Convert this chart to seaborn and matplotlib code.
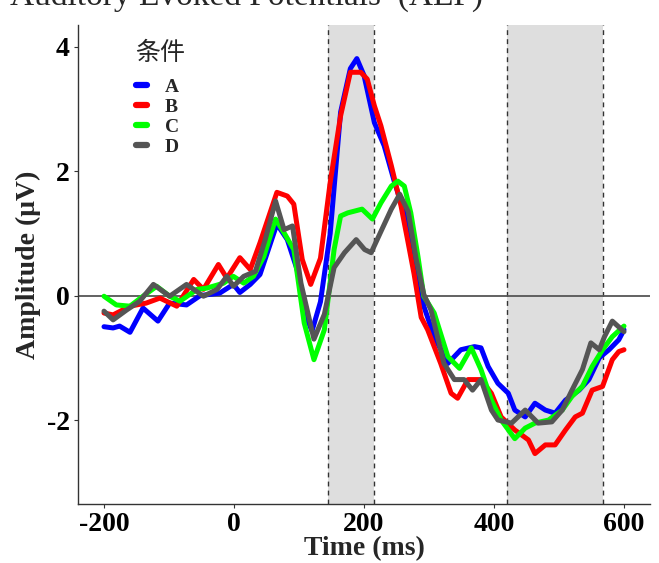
import numpy as np
import pandas as pd
import matplotlib
matplotlib.use("Agg")
import matplotlib.pyplot as plt
import seaborn as sns
from matplotlib.lines import Line2D

# ---------------- data ----------------
conditions = ["A", "B", "C", "D"]
colors = ["#0000FF", "#FF0000", "#00FF00", "#555555"]

A_t = [-200, -186, -176, -160, -140, -117, -99, -73, -52, -22, -1, 9, 25, 40, 66, 82, 97, 113, 120, 133,
       148, 164, 179, 189, 200, 216, 231, 247, 262, 277, 292, 308, 329, 349, 370, 380, 391, 406, 422, 432,
       448, 463, 479, 494, 510, 531, 546, 562, 577, 592, 600]
A_v = [-0.50, -0.52, -0.49, -0.59, -0.20, -0.41, -0.12, -0.15, 0.00, 0.04, 0.18, 0.05, 0.18, 0.34, 1.15,
       0.90, 0.42, -0.39, -0.57, -0.10, 1.00, 2.95, 3.65, 3.81, 3.54, 2.78, 2.41, 1.82, 1.33, 0.58, -0.17,
       -0.66, -1.09, -0.87, -0.82, -0.84, -1.14, -1.41, -1.57, -1.84, -1.95, -1.73, -1.84, -1.89, -1.68,
       -1.52, -1.35, -1.00, -0.87, -0.71, -0.55]

B_t = [-200, -186, -160, -135, -114, -88, -62, -47, -24, -11, 9, 25, 40, 66, 82, 92, 105, 118, 133, 148,
       164, 179, 195, 205, 216, 226, 242, 257, 267, 277, 288, 298, 318, 334, 344, 360, 380, 396, 411, 432,
       453, 463, 479, 494, 510, 525, 536, 551, 567, 582, 592, 600]
B_v = [-0.28, -0.31, -0.17, -0.12, -0.04, -0.17, 0.26, 0.10, 0.50, 0.28, 0.61, 0.42, 0.85, 1.66, 1.60,
       1.47, 0.58, 0.18, 0.60, 1.82, 2.89, 3.59, 3.59, 3.48, 3.05, 2.73, 2.09, 1.44, 0.90, 0.35, -0.35,
       -0.55, -1.09, -1.57, -1.65, -1.35, -1.35, -1.57, -1.95, -2.16, -2.32, -2.54, -2.40, -2.40, -2.16,
       -1.95, -1.89, -1.52, -1.46, -1.03, -0.90, -0.87]

C_t = [-200, -181, -160, -140, -119, -99, -83, -57, -42, -16, -1, 15, 30, 46, 64, 77, 92, 108, 123, 139,
       154, 164, 175, 197, 213, 226, 242, 252, 262, 272, 283, 292, 308, 329, 347, 365, 380, 396, 411, 432,
       448, 463, 484, 505, 520, 536, 551, 567, 582, 600]
C_v = [-0.01, -0.15, -0.17, -0.01, 0.15, -0.01, -0.09, 0.10, 0.12, 0.20, 0.31, 0.20, 0.31, 0.63, 1.23,
       1.01, 0.74, -0.44, -1.03, -0.55, 0.74, 1.28, 1.33, 1.39, 1.23, 1.49, 1.76, 1.84, 1.76, 1.33, 0.63,
       -0.01, -0.28, -0.98, -1.17, -0.84, -1.19, -1.68, -2.00, -2.30, -2.13, -2.05, -2.00, -1.84, -1.62,
       -1.46, -1.14, -0.87, -0.66, -0.49]

D_t = [-200, -186, -165, -145, -124, -99, -73, -47, -26, -11, -1, 15, 33, 48, 64, 77, 90, 103, 123, 139,
       154, 170, 188, 201, 211, 226, 242, 255, 268, 280, 292, 303, 323, 339, 354, 367, 380, 396, 406, 427,
       448, 468, 489, 505, 520, 536, 549, 562, 570, 582, 600]
D_v = [-0.25, -0.39, -0.23, -0.09, 0.18, -0.01, 0.18, -0.01, 0.10, 0.31, 0.15, 0.31, 0.39, 0.90, 1.52,
       1.06, 1.12, 0.20, -0.70, -0.30, 0.45, 0.69, 0.90, 0.74, 0.69, 1.03, 1.39, 1.63, 1.35, 0.60, 0.02,
       -0.23, -1.09, -1.35, -1.35, -1.52, -1.35, -1.84, -2.00, -2.05, -1.84, -2.05, -2.03, -1.84, -1.52,
       -1.19, -0.76, -0.87, -0.66, -0.41, -0.58]

windows = [(145, 215), (420, 568)]
x_ticks = [-200, 0, 200, 400, 600]
y_ticks = [-2, 0, 2, 4]

title_text = "Auditory Evoked Potentials  (AEP)"
x_label = "Time (ms)"
y_label = "Amplitude (\u03bcV)"
legend_title = "\u6761\u4ef6"

# ---------------- build table ----------------
frames = []
for name, t, v in zip(conditions, [A_t, B_t, C_t, D_t], [A_v, B_v, C_v, D_v]):
    frames.append(pd.DataFrame({"Time": t, "Amplitude": v, "cond": name}))
df = pd.concat(frames, ignore_index=True)

# ---------------- figure ----------------
sns.set_theme(style="ticks")
plt.rcParams["font.family"] = ["Liberation Serif", "DejaVu Serif"]

W, H = 659, 563
fig = plt.figure(figsize=(W / 100, H / 100), dpi=100)
ax = fig.add_axes([78 / W, 1 - 504 / H, (650 - 78) / W, (504 - 25) / H])

for (x0, x1) in windows:
    ax.axvspan(x0, x1, color="#DEDEDE", zorder=0, lw=0)
    for xv in (x0, x1):
        ax.axvline(xv, color="#333333", lw=1.0, ls=(0, (3.5, 3)), zorder=1)

ax.axhline(0, color="#555555", lw=1.3, zorder=1)

sns.lineplot(data=df, x="Time", y="Amplitude", hue="cond", hue_order=conditions,
             palette=dict(zip(conditions, colors)), estimator=None, sort=False,
             lw=3.6, ax=ax, legend=False, zorder=3)
for ln in ax.get_lines():
    ln.set_solid_joinstyle("round")
    ln.set_solid_capstyle("round")

ax.set_xlim(-240, 640)
ax.set_ylim(-3.35, 4.35)
ax.set_xticks(x_ticks)
ax.set_yticks(y_ticks)
ax.set_xticklabels([str(x) for x in x_ticks])
ax.set_yticklabels([str(y) for y in y_ticks])

for lab in ax.get_xticklabels() + ax.get_yticklabels():
    lab.set_fontsize(20)
    lab.set_fontweight("bold")
    lab.set_color("black")
ax.tick_params(axis="both", length=3, width=0.8, color="#333333", pad=3)

ax.set_xlabel(x_label, fontsize=20, fontweight="bold", labelpad=-1)
ax.set_ylabel(y_label, fontsize=20, fontweight="bold", labelpad=4)

for side in ["top", "right"]:
    ax.spines[side].set_visible(False)
for side in ["left", "bottom"]:
    ax.spines[side].set_color("#333333")
    ax.spines[side].set_linewidth(1.0)

handles = [Line2D([0], [0], color=c, lw=4.5) for c in colors]
leg = ax.legend(handles, conditions, title=legend_title, loc="upper left",
                bbox_to_anchor=(0.07, 1.005), frameon=False, handlelength=0.6,
                handletextpad=0.9, labelspacing=0.12,
                prop={"family": "Liberation Serif", "weight": "bold", "size": 14})
leg.get_title().set_fontfamily(["Noto Sans CJK SC", "DejaVu Sans"])
leg.get_title().set_fontsize(18)
leg.get_title().set_fontweight("medium")
leg._legend_box.align = "left"
leg._legend_box.sep = 9

fig.text(10 / W, 1 - 5 / H, title_text, fontsize=24, va="baseline", ha="left",
         family="Liberation Serif")

fig.savefig("out.png", dpi=100)
